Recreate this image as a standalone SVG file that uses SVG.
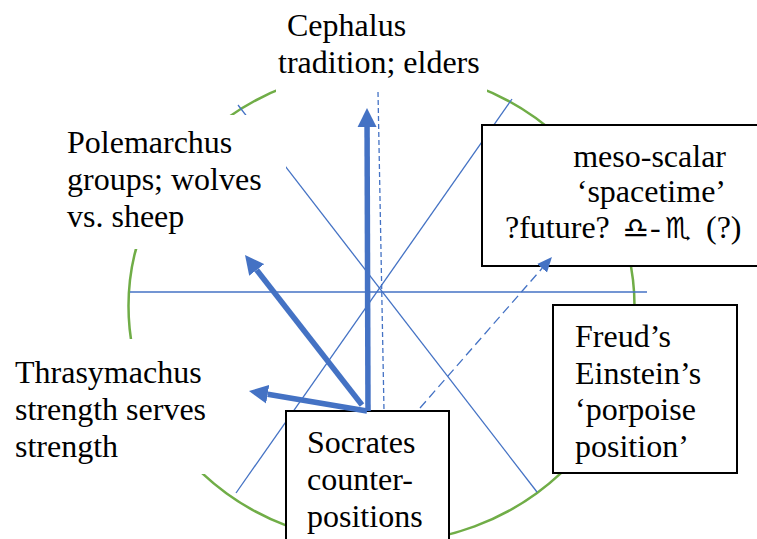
<svg xmlns="http://www.w3.org/2000/svg" width="757" height="539" viewBox="0 0 757 539">
  <style>
    .t { font-family: "Liberation Serif", "Times New Roman", serif; font-size: 32px; fill: #000; }
    .sym { font-family: "DejaVu Sans", sans-serif; font-size: 29px; }
    .guide { stroke: #4472C4; stroke-width: 1.3; fill: none; }
    .thick { stroke: #4472C4; stroke-width: 5.5; fill: none; }
    .box { fill: #fff; stroke: #000; stroke-width: 2; }
    .bg { fill: #fff; stroke: none; }
  </style>
  <defs>
    <marker id="headBig" markerUnits="userSpaceOnUse" markerWidth="20" markerHeight="20" viewBox="0 -10 20 20" refX="0" refY="0" orient="auto">
      <path d="M0,-9.5 L19,0 L0,9.5 Z" fill="#4472C4"/>
    </marker>
    <marker id="headSmall" markerUnits="userSpaceOnUse" markerWidth="16" markerHeight="14" viewBox="0 -7 16 14" refX="0" refY="0" orient="auto">
      <path d="M0,-6.5 L15,0 L0,6.5 Z" fill="#4472C4"/>
    </marker>
  </defs>
  <rect width="757" height="539" fill="#fff"/>

  <g id="circle">
    <ellipse cx="381.5" cy="306" rx="253" ry="237" fill="none" stroke="#70AD47" stroke-width="2.5"/>
  </g>

  <g id="guides">
    <line class="guide" x1="130" y1="292" x2="647" y2="292"/>
    <line class="guide" x1="238" y1="105" x2="537" y2="492"/>
    <line class="guide" x1="512" y1="99" x2="236" y2="493"/>
    <line class="guide" x1="378" y1="92" x2="384" y2="411" stroke-dasharray="5 3"/>
  </g>

  <g id="node-cephalus">
    <rect class="bg" x="276" y="0" width="211" height="92"/>
    <text class="t" x="287" y="36">Cephalus</text>
    <text class="t" x="278" y="72.5">tradition; elders</text>
  </g>

  <g id="node-polemarchus">
    <rect class="bg" x="60" y="115" width="226" height="134"/>
    <text class="t" x="67" y="153">Polemarchus</text>
    <text class="t" x="67" y="190">groups; wolves</text>
    <text class="t" x="67" y="227">vs. sheep</text>
  </g>

  <g id="node-thrasymachus">
    <rect class="bg" x="8" y="339" width="205" height="135"/>
    <text class="t" x="15" y="383">Thrasymachus</text>
    <text class="t" x="15" y="420">strength serves</text>
    <text class="t" x="15" y="457">strength</text>
  </g>

  <g id="node-meso">
    <rect class="box" x="482" y="125" width="280" height="141"/>
    <text class="t" x="726" y="166.5" text-anchor="end">meso-scalar</text>
    <text class="t" x="726" y="202" text-anchor="end">‘spacetime’</text>
    <text class="t" y="237.5"><tspan x="505">?future?</tspan><tspan class="sym" x="623">♎</tspan><tspan x="650">-</tspan><tspan class="sym" x="665">♏</tspan><tspan x="706">(?)</tspan></text>
  </g>

  <g id="node-freud">
    <rect class="box" x="553" y="305" width="184" height="168"/>
    <text class="t" x="575" y="347">Freud’s</text>
    <text class="t" x="575" y="383.5">Einstein’s</text>
    <text class="t" x="575" y="420">‘porpoise</text>
    <text class="t" x="575" y="456.5">position’</text>
  </g>

  <g id="node-socrates">
    <rect class="box" x="286" y="411" width="163" height="140"/>
    <text class="t" x="307" y="453">Socrates</text>
    <text class="t" x="307" y="490">counter-</text>
    <text class="t" x="307" y="527">positions</text>
  </g>

  <g id="connectors">
    <line class="thick" x1="368" y1="411" x2="367.06" y2="127" marker-end="url(#headBig)"/>
    <line class="thick" x1="362" y1="405" x2="256.7" y2="270" marker-end="url(#headBig)"/>
    <line class="thick" x1="367" y1="411" x2="267.7" y2="394.2" marker-end="url(#headBig)"/>
    <line class="guide" x1="420" y1="408" x2="542.1" y2="268.3" stroke-dasharray="9 5" marker-end="url(#headSmall)"/>
  </g>
</svg>
